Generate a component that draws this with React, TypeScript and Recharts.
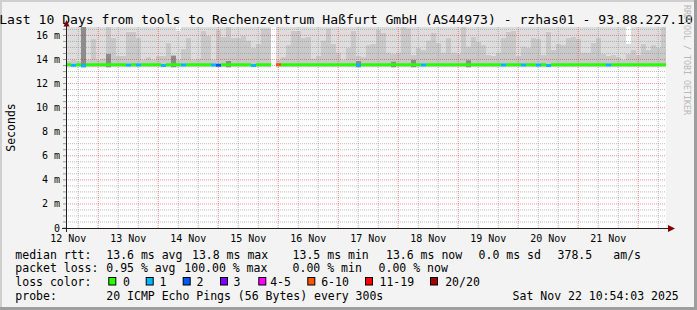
import React from 'react';
import { ComposedChart, Bar, Cell, XAxis, YAxis, ReferenceLine } from 'recharts';

const MONO = "'DejaVu Sans Mono', monospace";

// 120 buckets of 2 hours, starting Nov 12 10:54
const bucketHours: number[] = Array.from({ length: 120 }, (_, i) => i * 2);

const smokeLow: (number | null)[] = [
  13.35, 13.35, 13.35, 13.35, 13.35, 13.35, 13.35, 13.35, 13.35, 13.35,
  13.35, 13.35, 13.35, 13.35, 13.35, 13.35, 13.35, 13.35, 13.35, 13.35,
  13.35, 13.35, 13.35, 13.35, 13.35, 13.35, 13.35, 13.35, 13.35, 13.35,
  13.35, 13.35, 13.35, 13.35, 13.35, 13.35, 13.35, 13.35, 13.35, 13.35,
  13.35, null, 13.35, 13.35, 13.35, 13.35, 13.35, 13.35, 13.35, 13.35,
  13.35, 13.35, 13.35, 13.35, 13.35, 13.35, 13.35, 13.35, 13.35, 13.35,
  13.35, 13.35, 13.35, 13.35, 13.35, 13.35, 13.35, 13.35, 13.35, 13.35,
  13.35, 13.35, 13.35, 13.35, 13.35, 13.35, 13.35, 13.35, 13.35, 13.35,
  13.35, 13.35, 13.35, 13.35, 13.35, 13.35, 13.35, 13.35, 13.35, 13.35,
  13.35, 13.35, 13.35, 13.35, 13.35, 13.35, 13.35, 13.35, 13.35, 13.35,
  13.35, 13.35, 13.35, 13.35, 13.35, 13.35, 13.35, 13.35, 13.35, 13.35,
  13.35, 13.35, 13.35, 13.35, 13.35, 13.35, 13.35, 13.35, 13.35, 13.35,
];

const darkTop: (number | null)[] = [
  null, null, null, 16.7, null, null, null, null, 14.5, null,
  null, null, null, null, null, null, null, null, null, null,
  null, 14.35, null, null, null, null, null, null, null, null,
  null, null, 13.9, null, null, null, null, null, null, null,
  null, null, null, null, null, null, null, null, null, null,
  null, null, null, null, null, null, null, null, 13.9, null,
  null, null, null, null, null, 13.85, null, null, null, 14.0,
  null, null, null, null, null, null, null, null, null, null,
  13.95, null, null, null, null, null, null, null, null, null,
  null, null, null, null, null, null, null, null, null, null,
  null, null, null, null, null, null, null, null, null, null,
  null, null, null, null, null, null, null, null, null, null,
];

const midTop: (number | null)[] = [
  13.9, 14.0, 13.9, 16.7, 14.0, 15.7, 14.0, 14.1, 16.7, 15.8,
  14.3, 14.3, 16.3, 16.3, 15.8, 14.0, 14.2, 14.0, 14.3, 14.3,
  15.4, 14.2, 14.0, 14.9, 15.8, 14.0, 14.1, 16.4, 16.0, 14.0,
  16.5, 15.9, 16.7, 15.8, 15.8, 16.0, 15.6, 15.0, 15.3, 16.6,
  16.6, null, 14.0, 14.2, 15.2, 16.4, 16.4, 15.8, 15.9, 14.1,
  14.3, 15.6, 16.6, 15.3, 14.6, 14.0, 15.0, 16.4, 14.3, 14.2,
  15.2, 15.3, 16.5, 16.2, 14.6, 14.5, 14.6, 16.7, 16.6, 14.4,
  15.0, 14.8, 15.6, 16.2, 15.4, 14.6, 15.8, 14.6, 14.5, 16.7,
  15.1, 15.9, 15.5, 15.2, 14.4, 14.3, 14.6, 15.8, 16.3, 16.4,
  14.3, 15.1, 15.0, 15.8, 15.7, 14.4, 16.3, 14.8, 15.3, 15.2,
  15.8, 15.9, 15.7, 14.6, 14.6, 15.4, 15.8, 14.5, 14.3, 14.4,
  14.2, 14.0, 14.5, 14.8, 14.4, 15.3, 14.8, 15.2, 15.0, 16.7,
];

const lightTop: (number | null)[] = [
  16.7, 16.7, 16.7, 16.7, 16.7, 16.7, 16.7, 16.7, 16.7, 16.7,
  16.7, 16.7, 16.7, 16.7, 16.7, 16.7, 16.7, 16.7, 16.7, 16.7,
  16.7, 16.7, 16.4, 16.7, 16.7, 16.7, 16.7, 16.7, 16.7, 16.7,
  16.7, 16.7, 16.7, 16.7, 16.7, 16.7, 16.7, 16.7, 16.7, 16.7,
  16.7, null, 16.7, 16.7, 16.7, 16.7, 16.7, 16.7, 16.7, 16.7,
  16.7, 16.7, 16.7, 16.7, 16.7, 16.7, 16.7, 16.7, 16.7, 16.7,
  16.7, 16.7, 16.7, 16.7, 16.7, 16.7, 16.7, 16.7, 16.7, 16.7,
  16.7, 16.7, 16.7, 16.7, 16.7, 16.7, 16.7, 16.7, 16.7, 16.7,
  16.7, 16.7, 16.7, 16.7, 16.7, 16.7, 16.7, 16.7, 16.7, 16.7,
  16.7, 16.7, 16.7, 16.7, 16.7, 16.7, 16.7, 16.7, 16.7, 16.7,
  16.7, 16.7, 16.7, 16.7, 16.7, 16.7, 16.7, 16.7, 16.7, 16.7,
  16.7, 16.7, 15.3, 16.7, 16.7, 16.7, 16.7, 16.7, 16.7, 16.7,
];

const medianRtt: (number | null)[] = [
  13.57, 13.52, 13.57, 13.48, 13.57, 13.57, 13.57, 13.57, 13.57, 13.57,
  13.57, 13.57, 13.54, 13.57, 13.55, 13.57, 13.57, 13.57, 13.57, 13.5,
  13.57, 13.57, 13.57, 13.55, 13.57, 13.57, 13.57, 13.57, 13.57, 13.55,
  13.52, 13.57, 13.57, 13.57, 13.57, 13.57, 13.57, 13.5, 13.57, 13.57,
  13.57, null, 13.57, 13.57, 13.57, 13.57, 13.57, 13.57, 13.57, 13.57,
  13.57, 13.57, 13.57, 13.57, 13.57, 13.57, 13.57, 13.57, 13.54, 13.57,
  13.57, 13.57, 13.57, 13.57, 13.57, 13.57, 13.57, 13.57, 13.57, 13.57,
  13.57, 13.55, 13.57, 13.57, 13.57, 13.57, 13.57, 13.57, 13.57, 13.57,
  13.57, 13.57, 13.57, 13.57, 13.57, 13.57, 13.57, 13.55, 13.57, 13.57,
  13.57, 13.55, 13.57, 13.57, 13.54, 13.57, 13.5, 13.57, 13.57, 13.57,
  13.57, 13.57, 13.57, 13.57, 13.57, 13.57, 13.57, 13.57, 13.55, 13.57,
  13.57, 13.57, 13.57, 13.57, 13.57, 13.57, 13.57, 13.57, 13.57, 13.57,
];

// number of lost pings (out of 20) per bucket
const lossCount: number[] = [
  0, 1, 0, 1, 0, 0, 0, 0, 0, 0,
  0, 0, 1, 0, 1, 0, 0, 0, 0, 1,
  0, 0, 0, 1, 0, 0, 0, 0, 0, 1,
  2, 0, 0, 0, 0, 0, 0, 1, 0, 0,
  0, 0, 7, 0, 0, 0, 0, 0, 0, 0,
  0, 0, 0, 0, 0, 0, 0, 0, 1, 0,
  0, 0, 0, 0, 0, 0, 0, 0, 0, 0,
  0, 1, 0, 0, 0, 0, 0, 0, 0, 0,
  0, 0, 0, 0, 0, 0, 0, 1, 0, 0,
  0, 1, 0, 0, 1, 0, 1, 0, 0, 0,
  0, 0, 0, 0, 0, 0, 0, 0, 1, 0,
  0, 0, 0, 0, 0, 0, 0, 0, 0, 0,
];

const lossLegendLabels = ['0', '1', '2', '3', '4-5', '6-10', '11-19', '20/20'];
const lossLegendColors = ['#26ff00', '#00b8ff', '#0059ff', '#7e00ff', '#ff00ff', '#ff5500', '#ff0000', '#a10000'];

// x axis (hours since Nov 12 10:54)
const timeDomain: [number, number] = [0, 240];
const dayLabelHours = [0.9, 24.9, 48.9, 72.9, 96.9, 120.9, 144.9, 168.9, 192.9, 216.9];
const dayLabels = ['12 Nov', '13 Nov', '14 Nov', '15 Nov', '16 Nov', '17 Nov', '18 Nov', '19 Nov', '20 Nov', '21 Nov'];
const midnightHours = [12.9, 36.9, 60.9, 84.9, 108.9, 132.9, 156.9, 180.9, 204.9, 228.9];
const minorHours = [
  4.9, 20.9, 28.9, 44.9, 52.9, 68.9, 76.9, 92.9, 100.9, 116.9, 124.9, 140.9, 148.9,
  164.9, 172.9, 188.9, 196.9, 212.9, 220.9, 236.9,
];

const yMajor = [0, 2, 4, 6, 8, 10, 12, 14, 16];
const yMajorLabels = ['0', '2 m', '4 m', '6 m', '8 m', '10 m', '12 m', '14 m', '16 m'];
const yMinor = [0.5, 1, 1.5, 2.5, 3, 3.5, 4.5, 5, 5.5, 6.5, 7, 7.5, 8.5, 9, 9.5, 10.5, 11, 11.5, 12.5, 13, 13.5, 14.5, 15, 15.5, 16.5];

const lossColor = (n: number) => {
  if (n === 0) return lossLegendColors[0];
  if (n === 1) return lossLegendColors[1];
  if (n === 2) return lossLegendColors[2];
  if (n === 3) return lossLegendColors[3];
  if (n <= 5) return lossLegendColors[4];
  if (n <= 10) return lossLegendColors[5];
  if (n <= 19) return lossLegendColors[6];
  return lossLegendColors[7];
};

const smokeData = bucketHours.map((h, i) => {
  const low = smokeLow[i];
  if (low == null) return { h, base: null, dark: null, mid: null, light: null };
  const d = darkTop[i];
  const m = midTop[i] as number;
  const l = lightTop[i] as number;
  const dTop = d == null ? low : d;
  const mTop = Math.max(m, dTop);
  return { h, base: low, dark: dTop - low, mid: mTop - dTop, light: Math.max(l - mTop, 0) };
});

const medianData = bucketHours.map((h, i) => {
  const m = medianRtt[i];
  if (m == null) return { h, mbase: null, mband: null };
  return { h, mbase: m - 0.12, mband: 0.24 };
});

const axisData = timeDomain.map((t) => ({ t }));

const W = 697;
const H = 310;
const Y_DOMAIN: [number, number] = [0, 16.7];
const MGRID = 'rgba(230,40,40,0.5)';
const GRID = 'rgba(143,143,143,0.6)';
const PLOT_MARGIN = { top: 27, right: 31, bottom: 82, left: 66 };

const XTick = (props: any) => {
  const { x, y, payload } = props;
  const idx = dayLabelHours.indexOf(payload.value);
  return (
    <text x={x} y={y} dy="0.71em" textAnchor="middle" fontFamily={MONO} fontSize={10} fill="#000">
      {idx >= 0 ? dayLabels[idx] : ''}
    </text>
  );
};

const YTick = (props: any) => {
  const { x, y, payload } = props;
  const idx = yMajor.indexOf(payload.value);
  if (idx < 0) return <g />;
  return (
    <text x={x} y={y} dy="0.355em" textAnchor="end" fontFamily={MONO} fontSize={10} fill="#000">
      {yMajorLabels[idx]}
    </text>
  );
};

const abs: React.CSSProperties = { position: 'absolute', left: 0, top: 0 };

const T = (p: { x: number; y: number; children: React.ReactNode }) => (
  <text x={p.x} y={p.y} fontFamily={MONO} fontSize={11.5} fill="#000" style={{ whiteSpace: 'pre' }}>
    {p.children}
  </text>
);

export default function App() {
  const yAll = [...yMajor, ...yMinor].sort((a, b) => a - b);
  const legendBoxX = [108.3, 145.7, 182.7, 220, 258.3, 307.3, 365, 430];
  const legendTextX = [123, 159.5, 196.5, 233.5, 270.2, 321.2, 379.5, 445.2];
  return (
    <div style={{ position: 'absolute', left: 0, top: 0, width: W, height: H, background: '#f3f3f3', overflow: 'hidden' }}>
      {/* background frame + canvas */}
      <svg width={W} height={H} style={abs}>
        <rect x={0} y={0} width={W} height={H} fill="#f3f3f3" />
        <rect x={0} y={0} width={W} height={2} fill="#cfcfcf" />
        <rect x={0} y={0} width={2} height={H} fill="#cfcfcf" />
        <rect x={W - 3} y={0} width={3} height={H} fill="#9e9e9e" />
        <rect x={0} y={H - 3} width={W} height={3} fill="#9e9e9e" />
        <rect x={66} y={27} width={600} height={201} fill="#ffffff" />
      </svg>

      {/* smoke */}
      <div style={abs}>
        <ComposedChart width={W} height={H} data={smokeData} margin={PLOT_MARGIN} barCategoryGap={0} barGap={0}>
          <XAxis dataKey="h" type="category" hide />
          <YAxis type="number" domain={Y_DOMAIN} allowDataOverflow hide />
          <Bar dataKey="base" stackId="s" fill="#ffffff" fillOpacity={0} isAnimationActive={false} />
          <Bar dataKey="dark" stackId="s" fill="#8c8c8c" isAnimationActive={false} />
          <Bar dataKey="mid" stackId="s" fill="#c9c9c9" isAnimationActive={false} />
          <Bar dataKey="light" stackId="s" fill="#dddddd" isAnimationActive={false} />
        </ComposedChart>
      </div>

      {/* grid + axis labels */}
      <div style={abs}>
        <ComposedChart width={W} height={H} data={axisData} margin={{ top: 27, right: 31, bottom: 52, left: 16 }}>
          <XAxis
            dataKey="t"
            type="number"
            domain={timeDomain}
            ticks={dayLabelHours}
            interval={0}
            allowDataOverflow
            height={30}
            axisLine={false}
            tickLine={false}
            tickSize={0}
            tickMargin={6.4}
            tick={<XTick />}
          />
          <YAxis
            type="number"
            domain={Y_DOMAIN}
            allowDataOverflow
            ticks={yAll}
            interval={0}
            width={50}
            axisLine={false}
            tickSize={3}
            tickMargin={3}
            tickLine={{ stroke: '#9a9a9a' }}
            tick={<YTick />}
          />
          {yMinor.map((v) => (
            <ReferenceLine key={'ym' + v} y={v} stroke={GRID} strokeDasharray="1 1" />
          ))}
          {yMajor.filter((v) => v > 0).map((v) => (
            <ReferenceLine key={'yM' + v} y={v} stroke={MGRID} strokeDasharray="1 1" />
          ))}
          {minorHours.map((v) => (
            <ReferenceLine key={'xm' + v} x={v} stroke={GRID} strokeDasharray="1 1" />
          ))}
          {midnightHours.map((v) => (
            <ReferenceLine key={'xM' + v} x={v} stroke={MGRID} strokeDasharray="1 1" />
          ))}
        </ComposedChart>
      </div>

      {/* median line coloured by loss */}
      <div style={abs}>
        <ComposedChart width={W} height={H} data={medianData} margin={PLOT_MARGIN} barCategoryGap={0} barGap={0}>
          <XAxis dataKey="h" type="category" hide />
          <YAxis type="number" domain={Y_DOMAIN} allowDataOverflow hide />
          <Bar dataKey="mbase" stackId="m" fill="#ffffff" fillOpacity={0} isAnimationActive={false} />
          <Bar dataKey="mband" stackId="m" fill="#26ff00" isAnimationActive={false}>
            {medianData.map((d, i) => (
              <Cell key={i} fill={lossColor(lossCount[i])} />
            ))}
          </Bar>
        </ComposedChart>
      </div>

      {/* texts, axes, arrows */}
      <svg width={W} height={H} style={abs}>
        <text x={346} y={23.5} textAnchor="middle" fontFamily={MONO} fontSize={13.1} fill="#000">
          Last 10 Days from tools to Rechenzentrum Haßfurt GmbH (AS44973) - rzhas01 - 93.88.227.10
        </text>
        <text
          x={15}
          y={127.5}
          textAnchor="middle"
          fontFamily={MONO}
          fontSize={11.5}
          fill="#000"
          transform="rotate(-90 15 127.5)"
        >
          Seconds
        </text>
        <text x={683.5} y={5} fontFamily={MONO} fontSize={8.3} fill="#b8b8b8" transform="rotate(90 683.5 5)">
          RRDTOOL / TOBI OETIKER
        </text>

        <line x1={62} y1={228.5} x2={670} y2={228.5} stroke="#202020" strokeWidth={1} />
        <line x1={66.5} y1={232} x2={66.5} y2={23} stroke="#202020" strokeWidth={1} />
        <polygon points="668,225 675,228.5 668,232" fill="#800000" />
        <polygon points="63.5,26.5 69.5,26.5 66.5,20" fill="#800000" />

        <T x={15.3} y={258.5}>median rtt:</T>
        <T x={106.3} y={258.5}>13.6 ms avg</T>
        <T x={192} y={258.5}>13.8 ms max</T>
        <T x={292.6} y={258.5}>13.5 ms min</T>
        <T x={386} y={258.5}>13.6 ms now</T>
        <T x={478.6} y={258.5}>0.0 ms sd</T>
        <T x={557.6} y={258.5}>378.5</T>
        <T x={613.3} y={258.5}>am/s</T>

        <T x={15.3} y={272.2}>packet loss:</T>
        <T x={106.3} y={272.2}>0.95 % avg</T>
        <T x={184.3} y={272.2}>100.00 % max</T>
        <T x={292.6} y={272.2}>0.00 % min</T>
        <T x={378.6} y={272.2}>0.00 % now</T>

        <T x={15.3} y={285.9}>loss color:</T>
        {lossLegendLabels.map((lab, i) => (
          <g key={lab}>
            <rect x={legendBoxX[i] + 0.5} y={277.5} width={7} height={7.5} fill={lossLegendColors[i]} stroke="#000" strokeWidth={1} />
            <T x={legendTextX[i]} y={285.9}>{lab}</T>
          </g>
        ))}

        <T x={15.3} y={299.6}>probe:</T>
        <T x={106.3} y={299.6}>20 ICMP Echo Pings (56 Bytes) every 300s</T>
        <T x={512.6} y={299.6}>Sat Nov 22 10:54:03 2025</T>
      </svg>
    </div>
  );
}
